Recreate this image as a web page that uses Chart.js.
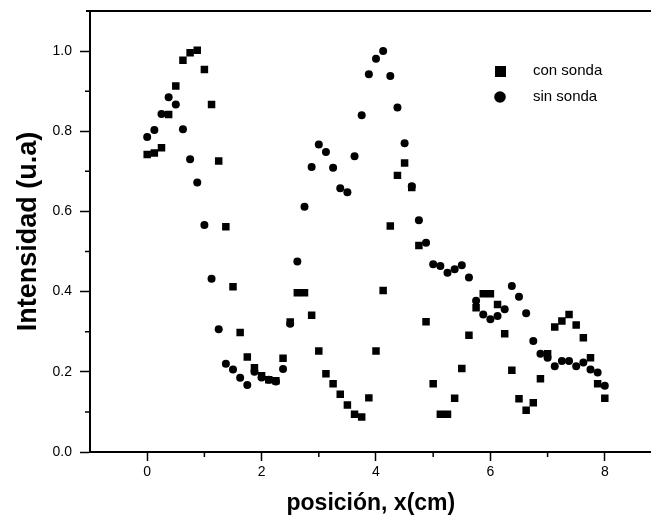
<!DOCTYPE html>
<html>
<head>
<meta charset="utf-8">
<script src="https://cdn.jsdelivr.net/npm/chart.js@4.4.0/dist/chart.umd.min.js"></script>
<style>
  html, body { margin: 0; padding: 0; background: #fff; overflow: hidden; }
  canvas { display: block; }
</style>
</head>
<body>
<canvas id="myChart" width="657" height="522"></canvas>
<script>
// posiciones de medida (cm)
var posiciones = [
  0, 0.125, 0.25, 0.375, 0.5, 0.625, 0.75, 0.875,
  1, 1.125, 1.25, 1.375, 1.5, 1.625, 1.75, 1.875,
  2, 2.125, 2.25, 2.375, 2.5, 2.625, 2.75, 2.875,
  3, 3.125, 3.25, 3.375, 3.5, 3.625, 3.75, 3.875,
  4, 4.125, 4.25, 4.375, 4.5, 4.625, 4.75, 4.875,
  5, 5.125, 5.25, 5.375, 5.5, 5.625, 5.75, 5.875,
  6, 6.125, 6.25, 6.375, 6.5, 6.625, 6.75, 6.875,
  7, 7.125, 7.25, 7.375, 7.5, 7.625, 7.75, 7.875,
  8
];

// intensidad con sonda (cuadrados)
var conSonda = [
  0.742, 0.746, 0.759, 0.842, 0.913, 0.977, 0.996, 1.002,
  0.954, 0.867, 0.726, 0.562, 0.412, 0.298, 0.237, 0.21,
  0.19, 0.18, 0.178, 0.234, 0.324, 0.397, 0.397, 0.341,
  0.252, 0.195, 0.17, 0.144, 0.117, 0.094, 0.087, 0.135,
  0.252, 0.403, 0.564, 0.69, 0.721, 0.66, 0.515, 0.325,
  0.17, 0.094, 0.094, 0.134, 0.208, 0.291, 0.36, 0.395,
  0.395, 0.368, 0.295, 0.204, 0.133, 0.104, 0.123, 0.183,
  0.245, 0.312, 0.327, 0.343, 0.317, 0.285, 0.235, 0.17,
  0.134
];

// intensidad sin sonda (circulos)
var sinSonda = [
  0.786, 0.803, 0.843, 0.885, 0.867, 0.805, 0.73, 0.672,
  0.566, 0.432, 0.306, 0.22, 0.206, 0.185, 0.167, 0.20,
  0.186, 0.18, 0.176, 0.207, 0.32, 0.475, 0.612, 0.711,
  0.767, 0.748, 0.709, 0.658, 0.648, 0.738, 0.84, 0.942,
  0.981, 1.0, 0.938, 0.859, 0.77, 0.663, 0.578, 0.522,
  0.468, 0.464, 0.447, 0.456, 0.466, 0.435, 0.377, 0.343,
  0.331, 0.339, 0.356, 0.414, 0.387, 0.346, 0.277, 0.245,
  0.235, 0.214, 0.227, 0.227, 0.214, 0.223, 0.206, 0.198,
  0.165
];

var xTicks = [0, 2, 4, 6, 8];
var xTickLabels = ['0', '2', '4', '6', '8'];
var xMinorTicks = [1, 3, 5, 7];
var yTicks = [0, 0.2, 0.4, 0.6, 0.8, 1.0];
var yTickLabels = ['0.0', '0.2', '0.4', '0.6', '0.8', '1.0'];
var yMinorTicks = [0.1, 0.3, 0.5, 0.7, 0.9];

var fuente = '"Liberation Sans", Arial, Helvetica, sans-serif';

function puntos(ys) {
  return posiciones.map(function (x, i) { return { x: x, y: ys[i] }; });
}

// marco superior, ticks menores y leyenda dentro del grafico
var extras = {
  id: 'extras',
  afterDraw: function (chart) {
    var ctx = chart.ctx, area = chart.chartArea;
    var sx = chart.scales.x, sy = chart.scales.y;
    ctx.save();
    ctx.strokeStyle = '#000';
    ctx.lineWidth = 2;
    ctx.beginPath();
    ctx.moveTo(area.left - 4, area.top);
    ctx.lineTo(area.right, area.top);
    ctx.stroke();

    ctx.lineWidth = 1.5;
    ctx.beginPath();
    xMinorTicks.forEach(function (v) {
      var px = sx.getPixelForValue(v);
      ctx.moveTo(px, area.bottom);
      ctx.lineTo(px, area.bottom + 5);
    });
    yMinorTicks.forEach(function (v) {
      var py = sy.getPixelForValue(v);
      ctx.moveTo(area.left, py);
      ctx.lineTo(area.left - 5, py);
    });
    ctx.stroke();

    // leyenda
    var ds = chart.data.datasets;
    ctx.fillStyle = '#000';
    ctx.fillRect(495, 66, 11, 11);
    ctx.beginPath();
    ctx.arc(500, 97, 5.8, 0, Math.PI * 2);
    ctx.fill();
    ctx.font = '15px ' + fuente;
    ctx.textBaseline = 'middle';
    ctx.fillText(ds[0].label, 533, 71);
    ctx.fillText(ds[1].label, 533, 97);
    ctx.restore();
  }
};

var ctx = document.getElementById('myChart').getContext('2d');
var myChart = new Chart(ctx, {
  type: 'scatter',
  data: {
    datasets: [{
      label: 'con sonda',
      data: puntos(conSonda),
      pointStyle: 'rect',
      pointRadius: 5.3,
      backgroundColor: '#000',
      borderColor: '#000',
      borderWidth: 0
    }, {
      label: 'sin sonda',
      data: puntos(sinSonda),
      pointStyle: 'circle',
      pointRadius: 4,
      backgroundColor: '#000',
      borderColor: '#000',
      borderWidth: 0
    }]
  },
  options: {
    responsive: false,
    animation: false,
    devicePixelRatio: 1,
    layout: { padding: { top: 11, right: 0, left: 0, bottom: 0 } },
    plugins: {
      legend: { display: false },
      tooltip: { enabled: false }
    },
    scales: {
      x: {
        type: 'linear',
        min: -1,
        max: 8.82,
        afterBuildTicks: function (scale) {
          scale.ticks = xTicks.map(function (v) { return { value: v }; });
        },
        afterFit: function (scale) {
          scale.height = 70;
          scale.paddingLeft = 0;
          scale.paddingRight = 0;
        },
        grid: { drawOnChartArea: false, drawTicks: true, tickLength: 9, tickColor: '#000', tickWidth: 1.5 },
        border: { display: true, color: '#000', width: 2 },
        ticks: {
          color: '#000',
          font: { family: fuente, size: 14 },
          padding: 3,
          maxRotation: 0,
          callback: function (v, i) { return xTickLabels[i]; }
        },
        title: {
          display: true,
          text: 'posición, x(cm)',
          color: '#000',
          font: { family: fuente, size: 23, weight: 'bold', lineHeight: 1.2 },
          padding: { top: 0, bottom: 5 }
        }
      },
      y: {
        type: 'linear',
        min: 0,
        max: 1.1,
        afterBuildTicks: function (scale) {
          scale.ticks = yTicks.map(function (v) { return { value: v }; });
        },
        afterFit: function (scale) {
          scale.width = 90;
          scale.paddingTop = 0;
          scale.paddingBottom = 0;
        },
        grid: { drawOnChartArea: false, drawTicks: true, tickLength: 10, tickColor: '#000', tickWidth: 1.5 },
        border: { display: true, color: '#000', width: 2 },
        ticks: {
          color: '#000',
          font: { family: fuente, size: 14 },
          padding: 8,
          callback: function (v, i) { return yTickLabels[i]; }
        },
        title: {
          display: true,
          text: 'Intensidad (u.a)',
          color: '#000',
          font: { family: fuente, size: 27, weight: 'bold', lineHeight: 1.2 },
          padding: { top: 12, bottom: 0 }
        }
      }
    }
  },
  plugins: [extras]
});
</script>
</body>
</html>
